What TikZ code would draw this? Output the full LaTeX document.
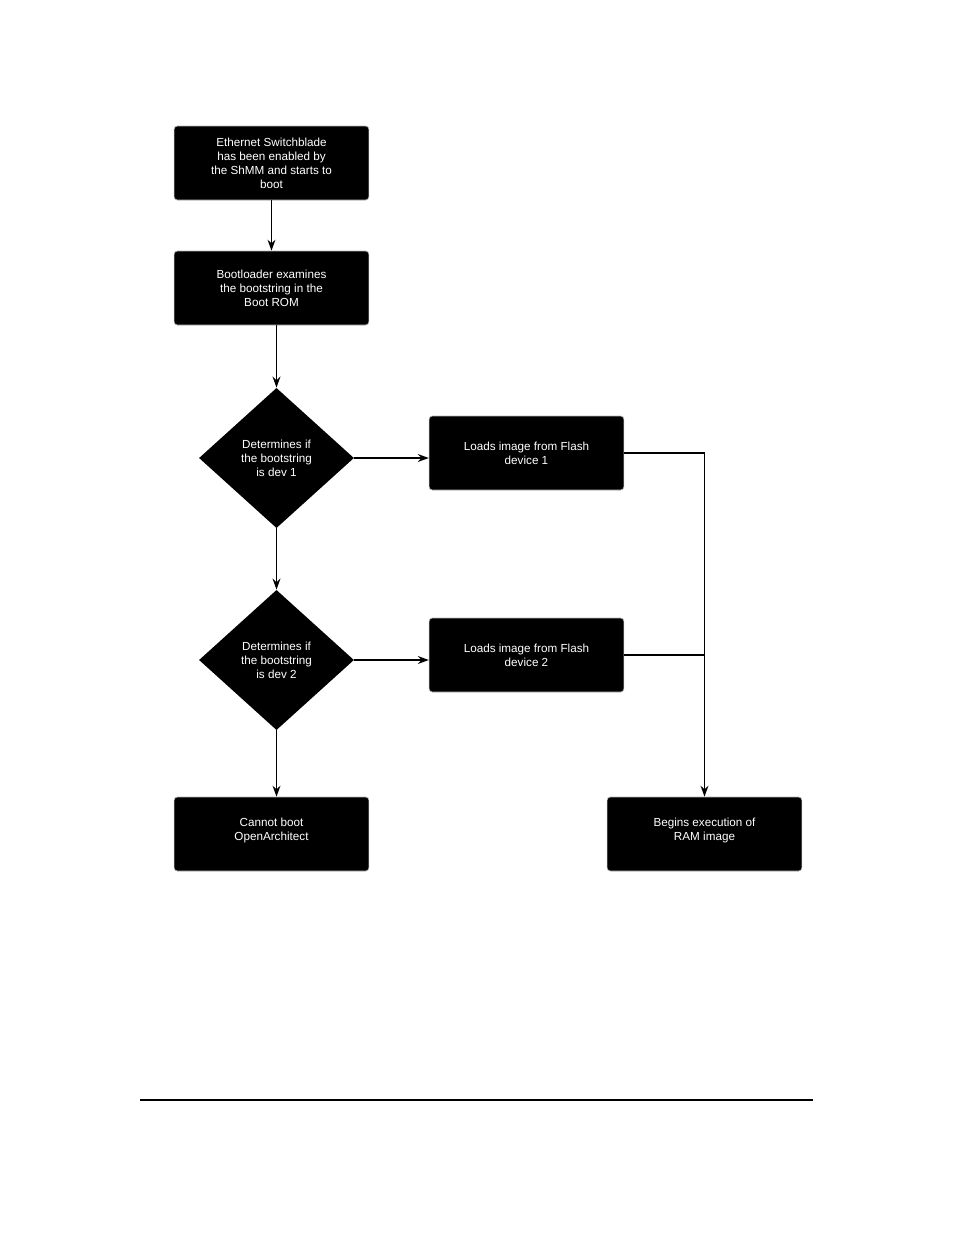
\documentclass[tikz,border=0pt]{standalone}
\usepackage{fontspec}
\setmainfont{Liberation Sans}
\usetikzlibrary{shapes.geometric,arrows.meta}

\tikzset{
    stepbox/.style={draw=gray!55, line width=0.4pt, fill=black, rounded corners=2pt,
        minimum width=125pt, minimum height=47.5pt, inner sep=0pt,
        text=white, align=center, font=\fontsize{7.5}{9}\selectfont},
    decision/.style={diamond, fill=black, minimum width=99.5pt, minimum height=90pt,
        inner sep=0pt, text=white, align=center, font=\fontsize{7.5}{9}\selectfont},
    flow/.style={line width=1.2pt, -{Stealth[length=7pt,width=5pt]}},
    link/.style={line width=1.2pt}
}

\begin{document}
\begin{tikzpicture}[x=0.642pt, y=-0.642pt]
        \useasboundingbox (0, 0) rectangle (954, 1235);
        \pgfmathsetmacro\l{271.5};
        \pgfmathsetmacro\d{276.5};
        \pgfmathsetmacro\m{526.5};
        \pgfmathsetmacro\r{704.5};

        \node[stepbox] (start) at (\l, 163) {Ethernet Switchblade\\has been enabled by\\the ShMM and starts to\\boot};
        \node[stepbox] (loader) at (\l, 288) {Bootloader examines\\the bootstring in the\\Boot ROM};
        \node[decision] (devone) at (\d, 458) {Determines if\\the bootstring\\is dev 1};
        \node[decision] (devtwo) at (\d, 660) {Determines if\\the bootstring\\is dev 2};
        \node[stepbox] (flashone) at (\m, 453) {Loads image from Flash\\device 1};
        \node[stepbox] (flashtwo) at (\m, 655) {Loads image from Flash\\device 2};
        \node[stepbox] (noboot) at (\l, 834) {Cannot boot\\OpenArchitect\\[-2.6pt]};
        \node[stepbox] (ramrun) at (\r, 834) {Begins execution of\\RAM image\\[-2.6pt]};

        \draw[flow] (start) -- (loader);
        \draw[flow] (devone.north |- loader.south) -- (devone.north);
        \draw[flow] (devone.east) -- (devone.east -| flashone.west);
        \draw[flow] (devone.south) -- (devtwo.north);
        \draw[flow] (devtwo.east) -- (devtwo.east -| flashtwo.west);
        \draw[flow] (devtwo.south) -- (devtwo.south |- noboot.north);
        \draw[flow] (flashone.east) -| (ramrun.north);
        \draw[link] (flashtwo.east) -- (flashtwo.east -| ramrun.north);

        % page rule
        \draw[line width=1.4pt] (140, 1100) -- (813, 1100);
    \end{tikzpicture}
\end{document}
